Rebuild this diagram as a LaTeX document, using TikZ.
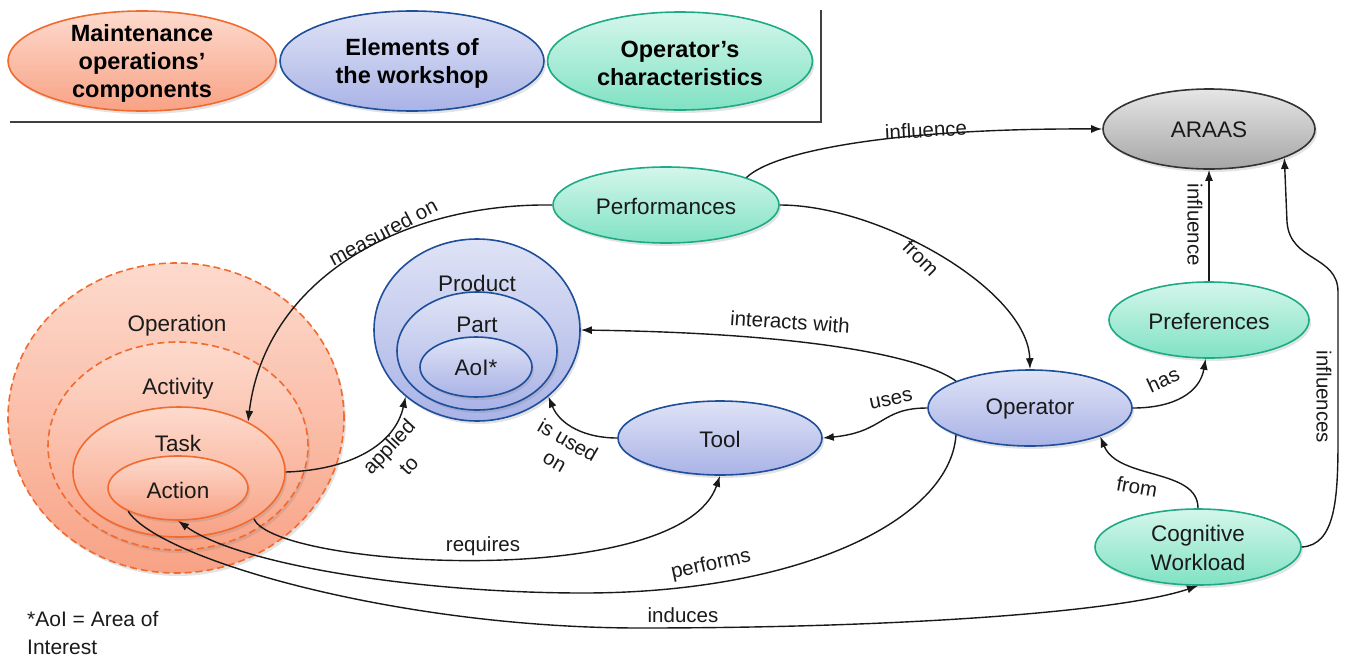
\documentclass[tikz,border=0pt]{standalone}
\usepackage{fontspec}
\setmainfont{Liberation Sans}
\usetikzlibrary{shapes.geometric,arrows.meta,shadows}
\definecolor{orDraw}{HTML}{F26A2E}
\definecolor{orTop}{HTML}{FDDACD}
\definecolor{orBot}{HTML}{F8A285}
\definecolor{blDraw}{HTML}{1F4E9A}
\definecolor{blTop}{HTML}{DFE3F6}
\definecolor{blBot}{HTML}{A9B3E6}
\definecolor{grDraw}{HTML}{1EAA85}
\definecolor{grTop}{HTML}{D4F6EB}
\definecolor{grBot}{HTML}{80E2C3}
\definecolor{gyDraw}{HTML}{333333}
\definecolor{gyTop}{HTML}{E6E6E6}
\definecolor{gyBot}{HTML}{A6A6A6}
\definecolor{txt}{HTML}{1A1A1A}
\begin{document}
\begin{tikzpicture}[x=1pt,y=-1pt,
  ell/.style={ellipse, inner sep=0pt, line width=1.6pt, text=txt,
    drop shadow={opacity=0.22, shadow xshift=2pt, shadow yshift=-3pt}},
  orangeN/.style={ell, draw=orDraw, top color=orTop, bottom color=orBot},
  dashN/.style={orangeN, dash pattern=on 7pt off 4pt},
  blueN/.style={ell, draw=blDraw, top color=blTop, bottom color=blBot},
  greenN/.style={ell, draw=grDraw, top color=grTop, bottom color=grBot},
  grayN/.style={ell, draw=gyDraw, top color=gyTop, bottom color=gyBot},
  ntext/.style={font=\fontsize{22.5}{29}\selectfont, text=txt, align=center},
  legtext/.style={font=\bfseries\fontsize{23.5}{28}\selectfont, align=center},
  lbl/.style={font=\fontsize{20.5}{25}\selectfont, text=txt, inner sep=1pt, align=center},
  conn/.style={line width=1.4pt, draw=black!90, -{Latex[length=11pt,width=8pt]}}
]
\useasboundingbox (0,0) rectangle (1346,659);

% ---------- legend ----------
\node[orangeN, minimum width=268pt, minimum height=100pt] (legA) at (142,61) {};
\node[legtext] (legAT) at (142,63) {Maintenance\\operations'\\components};
\node[blueN, minimum width=264pt, minimum height=100pt] (legB) at (412,61) {};
\node[legtext] (legBT) at (412,63) {Elements of\\the workshop};
\node[greenN, minimum width=265pt, minimum height=98pt] (legC) at (680,61) {};
\node[legtext] (legCT) at (680,63) {Operator's\\characteristics};
\draw[line width=1.5pt, draw=black!75] (10,122) -- (821,122) -- (821,10);

% ---------- maintenance components ----------
\node[dashN, minimum width=336pt, minimum height=310pt] (opn) at (176,418) {};
\node[dashN, minimum width=260pt, minimum height=208pt] (act) at (178,446) {};
\node[orangeN, minimum width=212pt, minimum height=130pt] (task) at (179,472) {};
\node[orangeN, minimum width=140pt, minimum height=64pt] (action) at (178,488) {};
\node[ntext] (opnT) at (177,326) {Operation};
\node[ntext] (actT) at (178,389) {Activity};
\node[ntext] (taskT) at (178,443) {Task};
\node[ntext] (actionT) at (178,490) {Action};

% ---------- workshop elements ----------
\node[blueN, minimum width=206pt, minimum height=182pt] (prod) at (477,330) {};
\node[blueN, minimum width=160pt, minimum height=118pt] (part) at (477,351) {};
\node[blueN, minimum width=112pt, minimum height=60pt] (aoi) at (476,367) {};
\node[ntext] (prodT) at (477,283) {Product};
\node[ntext] (partT) at (477,325) {Part};
\node[ntext] (aoiT) at (476,368) {AoI*};

\node[blueN, minimum width=204pt, minimum height=74pt] (tool) at (720,438) {};
\node[ntext] (toolT) at (720,439) {Tool};
\node[blueN, minimum width=204pt, minimum height=76pt] (op) at (1030,408) {};
\node[ntext] (opT) at (1030,409) {Operator};

% ---------- operator characteristics ----------
\node[greenN, minimum width=226pt, minimum height=76pt] (perf) at (666,205) {};
\node[ntext] (perfT) at (666,206) {Performances};
\node[greenN, minimum width=200pt, minimum height=76pt] (pref) at (1209,320) {};
\node[ntext] (prefT) at (1209,321) {Preferences};
\node[greenN, minimum width=206pt, minimum height=76pt] (cw) at (1198,547) {};
\node[ntext] (cwT) at (1198,548) {Cognitive\\Workload};
\node[grayN, minimum width=212pt, minimum height=80pt] (araas) at (1209,129) {};
\node[ntext] (araasT) at (1209,130) {ARAAS};

% ---------- footnote ----------
\node[font=\fontsize{21}{28}\selectfont, text=txt, align=left, anchor=north west, inner sep=0pt] (note) at (27,611)
  {*AoI = Area of\\Interest};

% ---------- connectors ----------
\draw[conn] (perf.north east) .. controls (775,150) and (900,128) .. (araas.west);
\node[lbl, rotate=3] at (926,130) {influence};

\draw[conn] (perf.west) .. controls (400,203) and (265,280) .. (task.36);
\node[lbl, rotate=28] at (383,232) {measured on};

\draw[conn] (perf.east) .. controls (880,205) and (1028,290) .. (op.north);
\node[lbl, rotate=-45] at (921,258) {from};

\draw[conn] (pref.north) -- (araas.south);
\node[lbl, rotate=-90] at (1195,225) {influence};

\draw[conn] (cw.east) .. controls (1335,545) and (1338,500) .. (1338,440) -- (1338,292)
  .. controls (1338,255) and (1290,262) .. (1287,222) -- (araas.-21);
\node[lbl, rotate=-90] at (1324,397) {influences};

\draw[conn] (op.east) .. controls (1175,408) and (1200,392) .. (pref.265);
\node[lbl, rotate=25] at (1163,380) {has};

\draw[conn] (cw.north) .. controls (1198,468) and (1118,480) .. (op.-22);
\node[lbl, rotate=-10] at (1137,487) {from};

\draw[conn] (op.160) .. controls (920,355) and (800,333) .. (prod.east);
\node[lbl, rotate=-4] at (790,322) {interacts with};

\draw[conn] (op.west) .. controls (880,408) and (885,432) .. (tool.east);
\node[lbl, rotate=12] at (891,400) {uses};

\draw[conn] (tool.west) .. controls (585,438) and (560,425) .. (prod.-43);
\node[lbl, rotate=-30] (usedA) at (568,440) {is used};
\node[lbl, rotate=-30] (usedB) at (554,463) {on};

\draw[conn] (task.east) .. controls (350,470) and (395,445) .. (prod.223);
\node[lbl, rotate=47] (applA) at (390,448) {applied};
\node[lbl, rotate=47] (applB) at (409,466) {to};

\draw[conn] (task.-32) .. controls (275,568) and (680,592) .. (tool.south);
\node[lbl] at (483,546) {requires};

\draw[conn] (op.200) .. controls (950,520) and (800,593) .. (583,593)
  .. controls (420,593) and (240,565) .. (action.south);
\node[lbl, rotate=12] at (711,565) {performs};

\draw[conn] (action.205) .. controls (160,560) and (400,628) .. (640,628)
  .. controls (900,628) and (1120,612) .. (cw.south);
\node[lbl] at (683,615) {induces};
\end{tikzpicture}
\end{document}
